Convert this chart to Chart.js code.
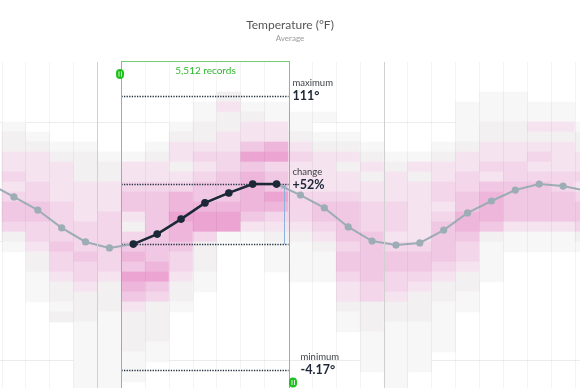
<!DOCTYPE html>
<html>
<head>
<meta charset="utf-8">
<script src="https://cdn.jsdelivr.net/npm/chart.js@4.4.0/dist/chart.umd.min.js"></script>
<style>
  body { margin: 0; background: #fff; overflow: hidden; font-family: Lato, sans-serif; }
  #wrap { position: relative; width: 580px; height: 388px; }
  #title { position: absolute; top: 17px; left: 0; width: 580px; text-align: center; font-size: 12px; color: #555; }
  #sub { position: absolute; top: 33px; left: 0; width: 580px; text-align: center; font-size: 8px; color: #9a9a9a; }
  canvas { position: absolute; left: 0; top: 0; }
</style>
</head>
<body>
<div id="wrap">
  <canvas id="myChart" width="580" height="388"></canvas>
  <div id="title">Temperature (°F)</div>
  <div id="sub">Average</div>
</div>
<script>
'use strict';
// months shown, first one only half visible on the left
const months = ['Aug', 'Sep', 'Oct', 'Nov', 'Dec', 'Jan', 'Feb', 'Mar', 'Apr', 'May', 'Jun', 'Jul', 'Aug',
    'Sep', 'Oct', 'Nov', 'Dec', 'Jan', 'Feb', 'Mar', 'Apr', 'May', 'Jun', 'Jul', 'Aug', 'Sep'];
const avgTemp = [73.9, 68.5, 63.0, 55.5, 49.6, 47.1, 48.7, 52.9, 59.2, 66.0, 70.2, 73.9, 73.9,
    69.3, 63.9, 55.9, 50.0, 48.3, 49.2, 54.6, 61.8, 66.8, 71.4, 73.9, 73.1, 71.0];

// heat per month column (months[1..25]), one digit per 4.2°F bin from 125.2°F down, 0 = empty
const heat = [
    '000000122334345542100000000000000',
    '000000012333445544322111000000000',
    '000000001233334444544322120000000',
    '000000001222333344454432221111111',
    '000000000122333444444322211111111',
    '000000000133455324565765322221110',
    '000000001233455555556754222211000',
    '000000123323466766544322100000000',
    '000011223434556774222110000000000',
    '000232233445556771000000000000000',
    '000012335756666531000000000000000',
    '000011336745576432111000000000000',
    '000001123433344432111100000000000',
    '000001012333345543211100000000000',
    '000000012323345555455433211000000',
    '000000001232334445555544222111100',
    '000000000123334443455443221111111',
    '000000000132333333455432221111100',
    '000000001233443455554322111110000',
    '000011112334455665443221100000000',
    '000111223343566652111100000000000',
    '000111223344555531100000000000000',
    '000011323434555531100000000000000',
    '000011323334455531100000000000000',
    '000000122334345542100000000000000',
];
const binTop = 125.2;
const binSize = 4.2;

const selStart = 5;   // Feb
const selEnd = 11;    // Aug
const recordCount = 5512;
const selMax = 111;
const selMin = -4.17;

const palette = ['', '#f7f7f7', '#f3f0f2', '#f5e3ef', '#f3d6ea', '#f1c8e4', '#efb6db', '#eca4d3'];

let cells = [];
for (let c = 0; c < heat.length; c++) {
    for (let r = 0; r < heat[c].length; r++) {
        let lvl = Number(heat[c][r]);
        if (lvl === 0) continue;
        let hi = binTop - binSize * r;
        cells.push({ x: c + 0.5, y: [hi - binSize, hi], lvl: lvl });
    }
}

let linePoints = [];
for (let i = 0; i < avgTemp.length; i++) {
    linePoints.push({ x: i - 0.5, y: avgTemp[i] });
}
let selPoints = linePoints.slice(selStart + 1, selEnd + 2);

const colW = 23.875;
const xMin = -2 / colW;
const xMax = xMin + 580 / colW;

const annotations = {
    id: 'annotations',
    beforeDatasetDraw(chart, args) {
        if (args.index !== 1) return;
        const ctx = chart.ctx;
        const x = chart.scales.x;
        const y = chart.scales.y;
        const left = x.getPixelForValue(selStart);
        const right = x.getPixelForValue(selEnd + 1);
        const yTop = y.getPixelForValue(avgTemp[selEnd + 1]);
        const yBot = y.getPixelForValue(avgTemp[selStart + 1]);
        ctx.save();
        ctx.strokeStyle = '#22303f';
        ctx.lineWidth = 1.3;
        ctx.setLineDash([1.3, 1.3]);
        [selMax, avgTemp[selEnd + 1], avgTemp[selStart + 1], selMin].forEach(function (v) {
            let py = Math.round(y.getPixelForValue(v)) + 0.5;
            ctx.beginPath();
            ctx.moveTo(left, py);
            ctx.lineTo(right, py);
            ctx.stroke();
        });
        ctx.setLineDash([]);
        // arrow of the change
        let ax = Math.round(right - 5) + 0.5;
        ctx.strokeStyle = '#8db2dc';
        ctx.lineWidth = 1;
        ctx.beginPath();
        ctx.moveTo(ax, yBot);
        ctx.lineTo(ax, yTop + 1);
        ctx.moveTo(ax - 3, yTop + 5);
        ctx.lineTo(ax, yTop + 1);
        ctx.lineTo(ax + 3, yTop + 5);
        ctx.stroke();

        const change = Math.round((avgTemp[selEnd + 1] / avgTemp[selStart + 1] - 1) * 100);
        const labels = [
            ['maximum', selMax + '°', y.getPixelForValue(selMax), right + 4],
            ['change', (change >= 0 ? '+' : '') + change + '%', yTop, right + 4],
            ['minimum', selMin + '°', y.getPixelForValue(selMin), right + 12],
        ];
        ctx.textBaseline = 'middle';
        ctx.textAlign = 'left';
        labels.forEach(function (l) {
            ctx.fillStyle = '#3a3f45';
            ctx.font = '9.5px Lato';
            ctx.fillText(l[0], l[3], l[2] - 12.5);
            ctx.fillStyle = '#1c2837';
            ctx.font = 'bold 12.5px Lato';
            ctx.fillText(l[1], l[3], l[2] + 0.5);
        });
        ctx.restore();
    },
    afterDraw(chart) {
        const ctx = chart.ctx;
        const x = chart.scales.x;
        const area = chart.chartArea;
        const left = Math.round(x.getPixelForValue(selStart)) + 0.5;
        const right = Math.round(x.getPixelForValue(selEnd + 1)) + 0.5;
        ctx.save();
        ctx.strokeStyle = '#74cd74';
        ctx.lineWidth = 1;
        ctx.strokeRect(left, area.top - 0.5, right - left, area.bottom - area.top + 10);
        ctx.fillStyle = '#2fb82f';
        ctx.font = '10px Lato';
        ctx.textAlign = 'center';
        ctx.textBaseline = 'middle';
        ctx.fillText(recordCount.toLocaleString('en-US') + ' records', (left + right) / 2, area.top + 8.5);
        // drag handles
        [[left - 1.5, area.top + 12], [right + 3.5, area.bottom - 5.5]].forEach(function (h) {
            ctx.fillStyle = '#1fc01f';
            ctx.beginPath();
            ctx.roundRect(h[0] - 4, h[1] - 5, 8, 10, 4);
            ctx.fill();
            ctx.strokeStyle = 'rgba(255,255,255,0.8)';
            ctx.beginPath();
            ctx.moveTo(h[0] - 1, h[1] - 2.5);
            ctx.lineTo(h[0] - 1, h[1] + 2.5);
            ctx.moveTo(h[0] + 1.5, h[1] - 2.5);
            ctx.lineTo(h[0] + 1.5, h[1] + 2.5);
            ctx.stroke();
        });
        ctx.restore();
    }
};

let context = document.getElementById('myChart').getContext('2d');
let chart = new Chart(context, {
    type: 'bar',
    data: {
        datasets: [{
            type: 'bar',
            label: 'records',
            data: cells,
            backgroundColor: (c) => c.raw ? palette[c.raw.lvl] : '#fff',
            borderWidth: 0,
            barPercentage: 1,
            categoryPercentage: 1,
            order: 3
        }, {
            type: 'line',
            label: months.join(' '),
            data: linePoints,
            borderColor: '#9cadb5',
            backgroundColor: '#9cadb5',
            borderWidth: 2,
            pointRadius: 3.6,
            pointBorderWidth: 0,
            tension: 0,
            order: 2
        }, {
            type: 'line',
            label: 'selection',
            data: selPoints,
            borderColor: '#1c2837',
            backgroundColor: '#1c2837',
            borderWidth: 2.5,
            pointRadius: 3.8,
            pointBorderWidth: 0,
            tension: 0,
            order: 1
        }]
    },
    options: {
        responsive: false,
        animation: false,
        devicePixelRatio: 1,
        layout: { autoPadding: false, padding: { top: 62, left: 0, right: 0, bottom: 0 } },
        plugins: { legend: { display: false }, tooltip: { enabled: false } },
        scales: {
            x: {
                type: 'linear',
                min: xMin,
                max: xMax,
                offset: false,
                afterBuildTicks: (axis) => {
                    let t = [];
                    for (let v = 0; v <= 24; v++) t.push({ value: v });
                    axis.ticks = t;
                },
                ticks: { display: false },
                grid: {
                    z: 1,
                    offset: false,
                    drawTicks: false,
                    color: (c) => {
                        let v = c.tick ? c.tick.value : 0;
                        if (v === selStart || v === selEnd + 1) return 'rgba(0,0,0,0)';
                        return (v === 4 || v === 16) ? '#d0d0d0' : 'rgba(0,0,0,0.045)';
                    }
                },
                border: { display: false }
            },
            y: {
                min: -11.76,
                max: 125.21,
                afterBuildTicks: (axis) => {
                    axis.ticks = [{ value: 0 }, { value: 50 }, { value: 100 }];
                },
                ticks: { display: false },
                grid: { drawTicks: false, color: '#ececec' },
                border: { display: false }
            }
        }
    },
    plugins: [annotations]
});
</script>
</body>
</html>
